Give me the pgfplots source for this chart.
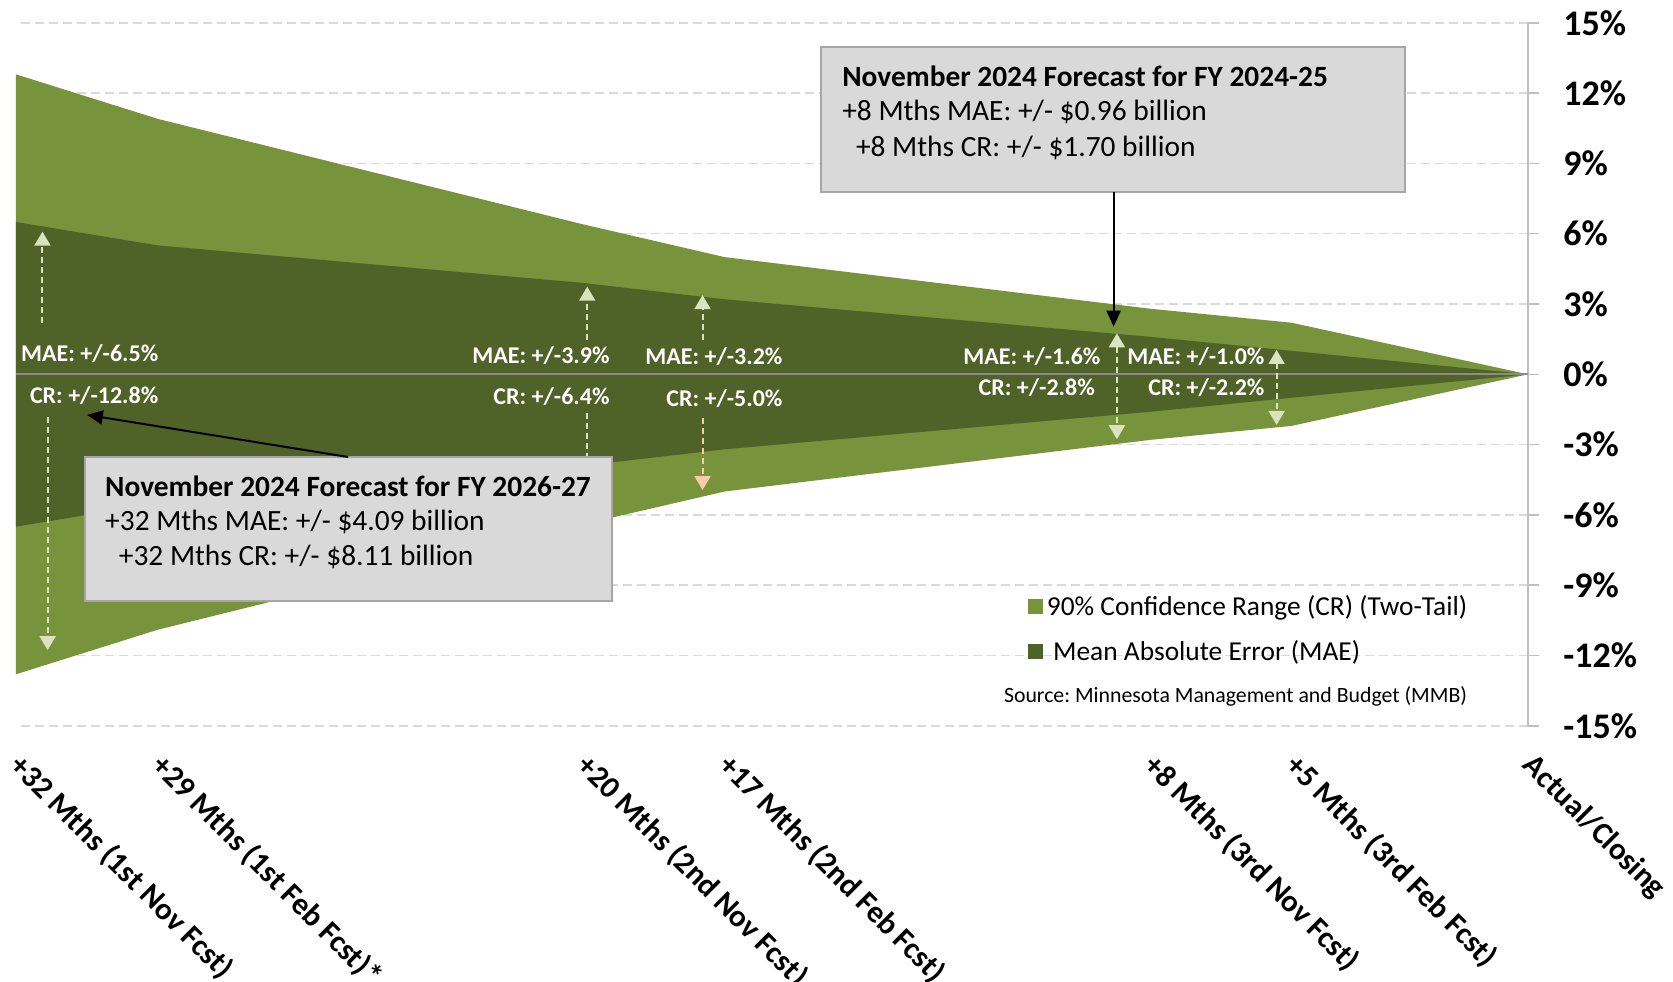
\documentclass[border=0pt]{standalone}
\usepackage{fontspec}
\setmainfont{Carlito}
\usepackage{pgfplots}
\pgfplotsset{compat=1.18}
\usetikzlibrary{arrows.meta}
\definecolor{cr}{HTML}{77933C}
\definecolor{mae}{HTML}{4F6228}
\definecolor{lightarrow}{HTML}{D7E4BD}
\definecolor{peach}{HTML}{F9CBA8}
\definecolor{boxgray}{HTML}{D9D9D9}
\definecolor{boxborder}{HTML}{A6A6A6}
\definecolor{axisgray}{HTML}{BFBFBF}
\definecolor{gridgray}{HTML}{D9D9D9}
\definecolor{zerogray}{HTML}{8C8C8C}
\frenchspacing
\begin{document}
\begin{tikzpicture}
\begin{axis}[
  name=ax, at={(0,0)}, anchor=south west,
  scale only axis, width=756pt, height=351.5pt,
  xmin=0, xmax=32, x dir=reverse, ymin=-15, ymax=15,
  axis x line*=bottom, axis y line*=right,
  x axis line style={draw=none},
  y axis line style={draw=axisgray, line width=0.75pt},
  xtick={32,29,20,17,8,5,0},
  xticklabels={+32 Mths (1st Nov Fcst),+29 Mths (1st Feb Fcst)*,+20 Mths (2nd Nov Fcst),+17 Mths (2nd Feb Fcst),+8 Mths (3rd Nov Fcst),+5 Mths (3rd Feb Fcst),Actual/Closing},
  xtick style={draw=none},
  xticklabel style={xshift=4.5pt, yshift=-7pt, rotate=-45, anchor=north west, font=\bfseries\fontsize{15.5}{17}\selectfont, inner sep=0pt},
  ytick={-15,-12,...,15},
  yticklabels={-15\%,-12\%,-9\%,-6\%,-3\%,0\%,3\%,6\%,9\%,12\%,15\%},
  yticklabel style={anchor=west, font=\bfseries\fontsize{18}{20}\selectfont, inner sep=0pt, xshift=12pt},
  ytick style={draw=axisgray, line width=0.75pt},
  tick align=outside, major tick length=5.5pt,
  ymajorgrids, grid style={draw=gridgray, line width=0.75pt, dash pattern=on 4.5pt off 2.5pt},
  clip=false,
  legend style={at={(0.669,0.192)}, anchor=north west, draw=none, fill=none, font=\fontsize{13.7}{16}\selectfont, row sep=7pt, inner sep=0pt, nodes={inner sep=2pt}},
  legend cell align=left,
  legend image code/.code={\fill[#1] (0pt,-3.75pt) rectangle (7.5pt,3.75pt);},
]
\addplot[fill=cr, draw=none] coordinates {(32,12.8) (29,10.9) (20,6.4) (17,5.0) (8,2.8) (5,2.2) (0,0) (5,-2.2) (8,-2.8) (17,-5.0) (20,-6.4) (29,-10.9) (32,-12.8)} -- cycle;
\addlegendentry{90\% Confidence Range (CR) (Two-Tail)}
\addplot[fill=mae, draw=none] coordinates {(32,6.5) (29,5.5) (20,3.9) (17,3.2) (8,1.6) (5,1.0) (0,0) (5,-1.0) (8,-1.6) (17,-3.2) (20,-3.9) (29,-5.5) (32,-6.5)} -- cycle;
\addlegendentry{\ Mean Absolute Error (MAE)}
\addplot[draw=zerogray, line width=1pt, forget plot] coordinates {(32,0) (0,0)};

% dashed arrows
\begin{scope}[line width=1pt, dash pattern=on 3pt off 2pt]
\draw[lightarrow, -{Triangle[width=8pt,length=7pt]}] (axis cs:31.44,2.19) -- (axis cs:31.44,6.09);
\draw[lightarrow, -{Triangle[width=8pt,length=7pt]}] (axis cs:31.33,-1.81) -- (axis cs:31.33,-11.77);
\draw[lightarrow, -{Triangle[width=8pt,length=7pt]}] (axis cs:19.91,1.46) -- (axis cs:19.91,3.74);
\draw[lightarrow] (axis cs:19.91,-1.65) -- (axis cs:19.91,-3.6);
\draw[lightarrow, -{Triangle[width=8pt,length=7pt]}] (axis cs:17.47,1.46) -- (axis cs:17.47,3.38);
\draw[peach, -{Triangle[width=8pt,length=7pt]}] (axis cs:17.47,-1.87) -- (axis cs:17.47,-4.94);
\draw[lightarrow, {Triangle[width=8pt,length=7pt]}-{Triangle[width=8pt,length=7pt]}] (axis cs:8.70,1.75) -- (axis cs:8.70,-2.77);
\draw[lightarrow, {Triangle[width=8pt,length=7pt]}-{Triangle[width=8pt,length=7pt]}] (axis cs:5.32,1.04) -- (axis cs:5.32,-2.16);
\end{scope}

% value labels
\begin{scope}[every node/.style={anchor=east, text=white, font=\bfseries\fontsize{12}{14}\selectfont, inner sep=0pt}]
\node at (axis cs:28.98,0.90) {MAE: +/-6.5\%};
\node at (axis cs:28.98,-0.93) {CR: +/-12.8\%};
\node at (axis cs:19.43,0.78) {MAE: +/-3.9\%};
\node at (axis cs:19.43,-0.97) {CR: +/-6.4\%};
\node at (axis cs:15.77,0.74) {MAE: +/-3.2\%};
\node at (axis cs:15.77,-1.05) {CR: +/-5.0\%};
\node at (axis cs:9.04,0.75) {MAE: +/-1.6\%};
\node at (axis cs:9.16,-0.55) {CR: +/-2.8\%};
\node at (axis cs:5.57,0.75) {MAE: +/-1.0\%};
\node at (axis cs:5.57,-0.55) {CR: +/-2.2\%};
\end{scope}

% annotation boxes
\draw[fill=boxgray, draw=boxborder, line width=1pt] (axis cs:30.54,-3.53) rectangle (axis cs:19.39,-9.68);
\begin{scope}[every node/.style={anchor=west, inner sep=0pt, font=\fontsize{14.7}{17}\selectfont}]
\node[font=\bfseries\fontsize{14.7}{17}\selectfont] at (axis cs:30.12,-4.80) {November 2024 Forecast for FY 2026-27};
\node at (axis cs:30.12,-6.29) {+32 Mths MAE: +/- \$4.09 billion};
\node at (axis cs:29.83,-7.78) {+32 Mths CR: +/- \$8.11 billion};
\end{scope}
\draw[fill=boxgray, draw=boxborder, line width=1pt] (axis cs:14.96,13.96) rectangle (axis cs:2.60,7.77);
\begin{scope}[every node/.style={anchor=west, inner sep=0pt, font=\fontsize{14.7}{17}\selectfont}]
\node[font=\bfseries\fontsize{14.7}{17}\selectfont] at (axis cs:14.52,12.70) {November 2024 Forecast for FY 2024-25};
\node at (axis cs:14.52,11.21) {+8 Mths MAE: +/- \$0.96 billion};
\node at (axis cs:14.23,9.65) {+8 Mths CR: +/- \$1.70 billion};
\end{scope}
\draw[black, line width=1pt, -{Triangle[width=7pt,length=8pt]}] (axis cs:8.77,7.77) -- (axis cs:8.77,2.03);
\draw[black, line width=1pt, -{Triangle[width=7pt,length=8pt]}] (axis cs:24.97,-3.53) -- (axis cs:30.5,-1.73);

\node[font=\fontsize{10.9}{13}\selectfont, inner sep=0pt] at (axis cs:6.19,-13.76) {Source: Minnesota Management and Budget (MMB)};
\end{axis}
\pgfresetboundingbox
\useasboundingbox (-8pt,-127.6pt) rectangle (828.5pt,362.9pt);
\end{tikzpicture}
\end{document}
